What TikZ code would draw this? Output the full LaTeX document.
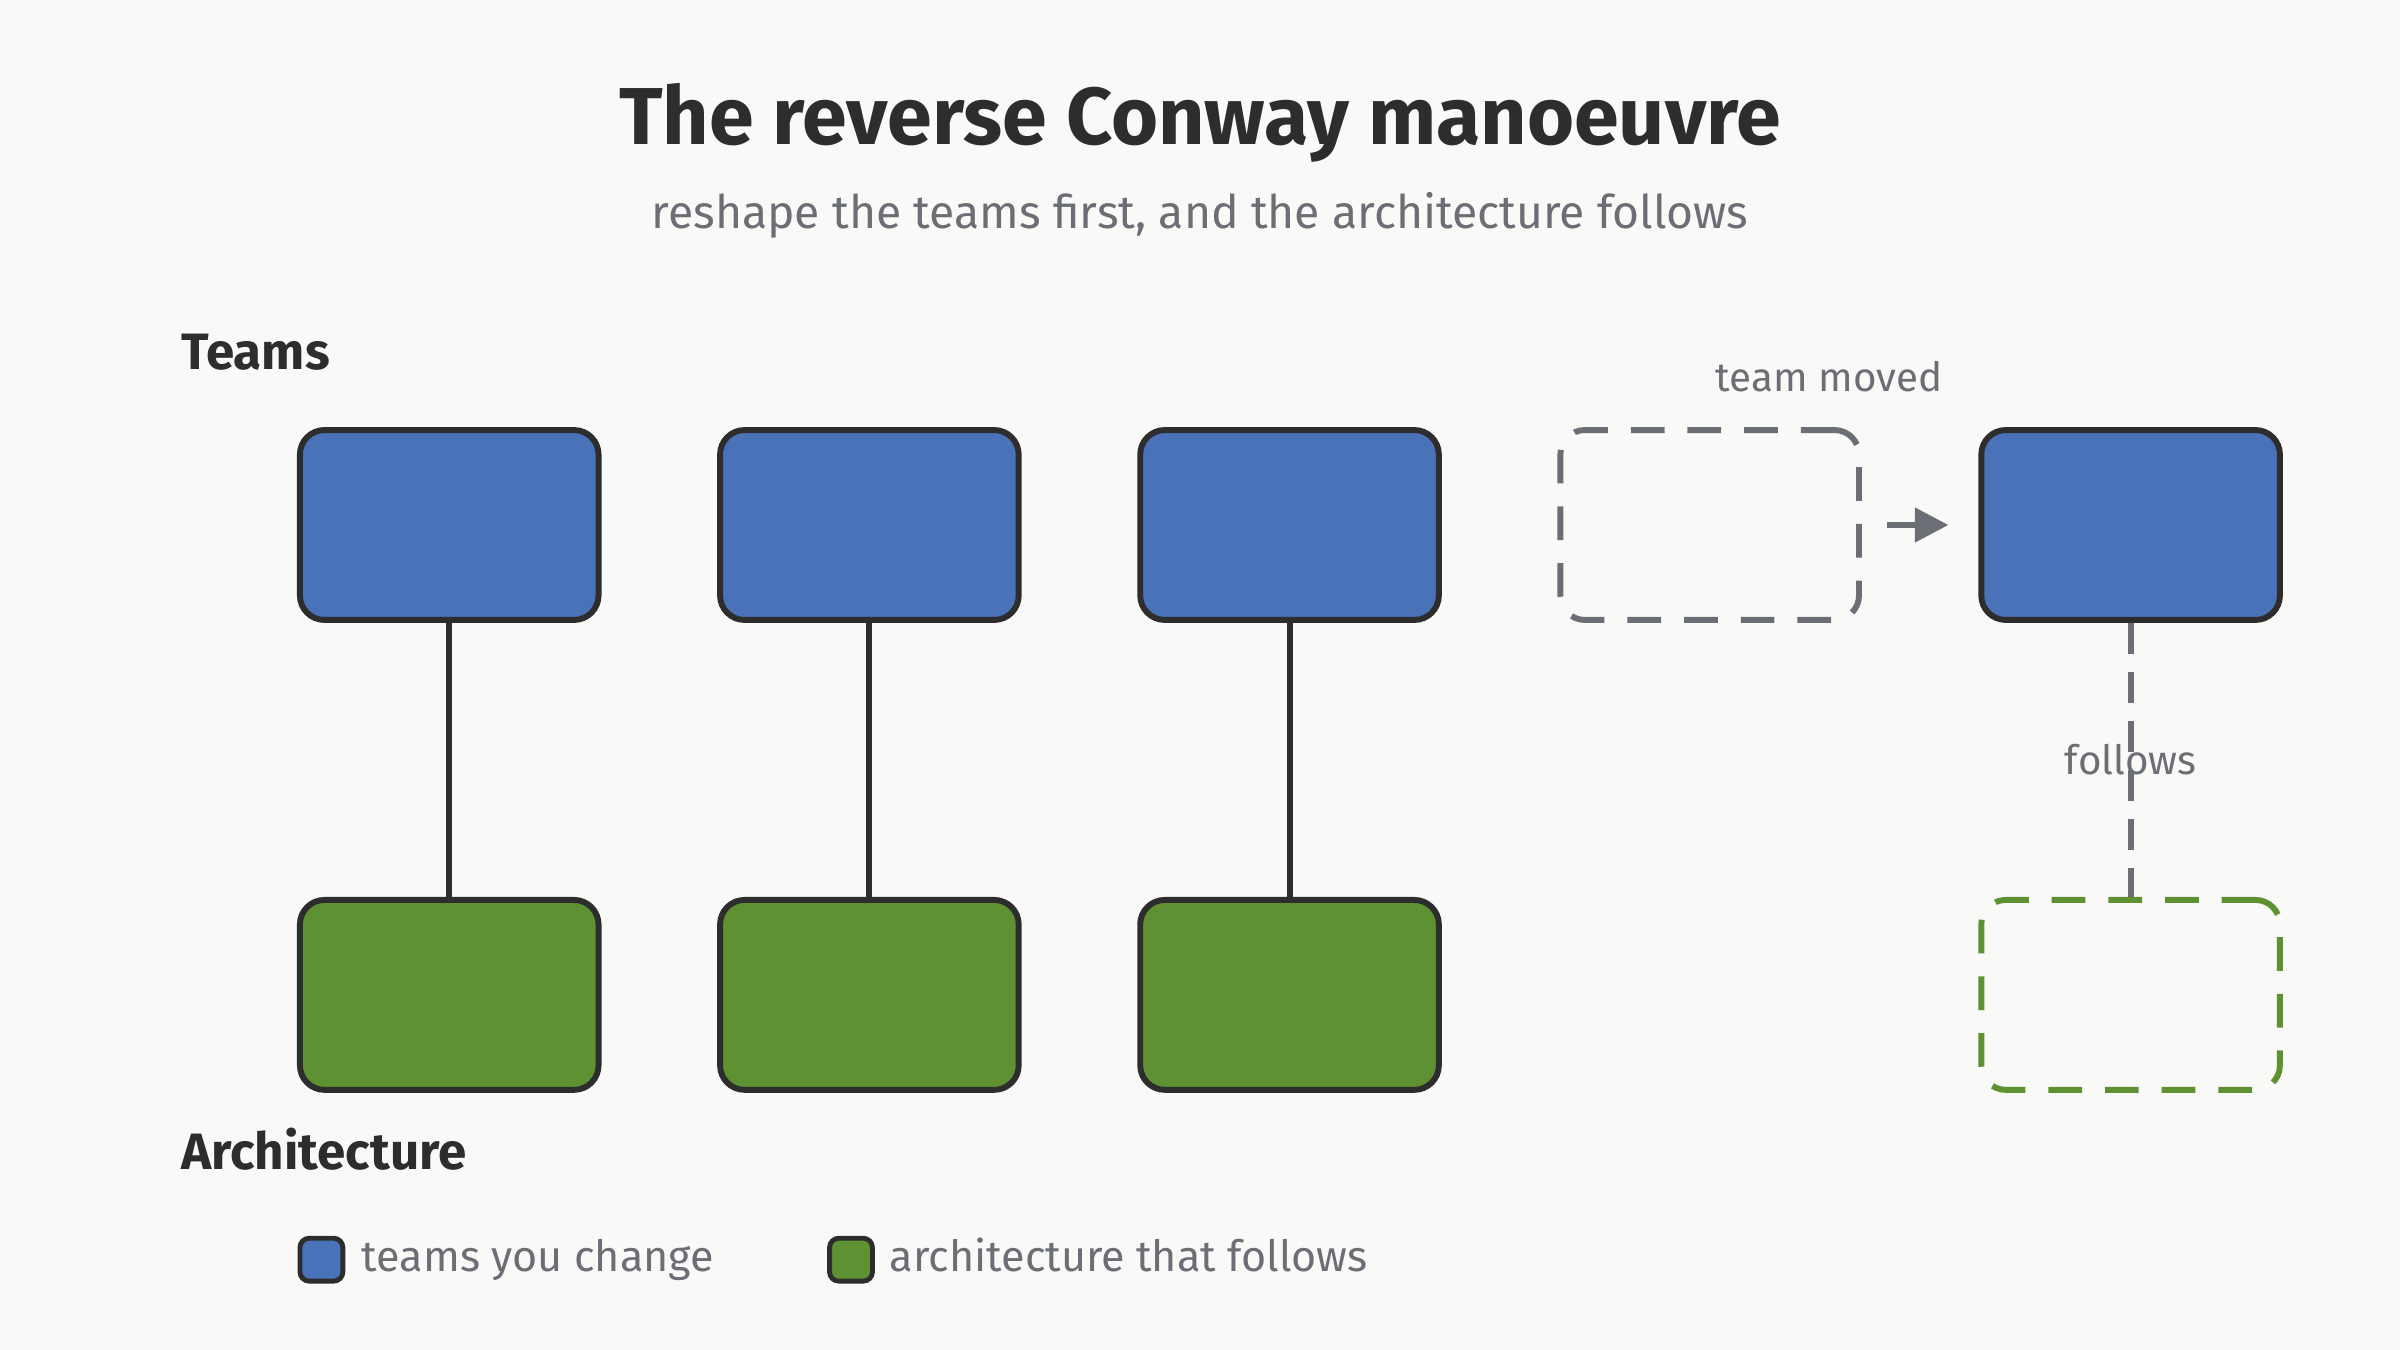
\documentclass[tikz,border=0pt]{standalone}
\usepackage{fontspec}
\setmainfont{Fira Sans}
\usetikzlibrary{arrows.meta}
\definecolor{teamblue}{HTML}{4A72B8}
\definecolor{archgreen}{HTML}{5E9132}
\definecolor{edge}{HTML}{2D2D2D}
\definecolor{soft}{HTML}{6B6E75}
\definecolor{paper}{HTML}{F9F9F7}
\tikzset{
  team/.style={draw=edge, fill=teamblue, line width=1.1pt, rounded corners=1.6mm, minimum width=1.95cm, minimum height=1.24cm},
  arch/.style={team, fill=archgreen},
  ghost/.style={draw=soft, dash pattern=on 2.2mm off 1.5mm, line width=1.1pt, rounded corners=1.6mm, minimum width=1.95cm, minimum height=1.24cm},
  link/.style={draw=edge, line width=1.1pt},
  key/.style={draw=edge, line width=0.9pt, rounded corners=0.6mm, minimum size=0.28cm, inner sep=0pt},
}
\begin{document}
\begin{tikzpicture}[x=0.01cm, y=-0.01cm]
      \fill[paper] (0,0) rectangle (1568,882);
      \useasboundingbox (0,0) rectangle (1568,882);

      \node (title) at (784,80) {\fontsize{15}{17}\selectfont\bfseries\color{edge}The reverse Conway manoeuvre};
      \node (sub) at (784,141) {\fontsize{8.6}{10}\selectfont\color{soft}reshape the teams first, and the architecture follows};
      \node[anchor=west] (teams) at (106,230) {\fontsize{9.5}{11}\selectfont\bfseries\color{edge}Teams};
      \node[anchor=west] (archlbl) at (106,751) {\fontsize{9.5}{11}\selectfont\bfseries\color{edge}Architecture};

      % three team / architecture pairs
      \foreach \i/\cx in {1/293.5, 2/568, 3/842.5} {
        \node[team] (t\i) at (\cx,343) {};
        \node[arch] (a\i) at (\cx,650) {};
        \draw[link] (t\i) -- (a\i);
      }

      % the moved team
      \node[ghost] (old) at (1117,343) {};
      \node[team] (new) at (1392,343) {};
      \node[ghost, draw=archgreen] (follow) at (1392,650) {};
      \node (moved) at (1195,246) {\fontsize{7.5}{9}\selectfont\color{soft}team moved};
      \coordinate (from) at (1233,343);
      \coordinate (to) at (1273,343);
      \draw[draw=soft, line width=1.1pt, -{Triangle[length=2.2mm, width=2.2mm]}] (from) -- (to);
      \draw[draw=soft, line width=1.1pt, dash pattern=on 2mm off 1.2mm] (new) -- node[pos=0.5, text=soft, font=\fontsize{7.5}{9}\selectfont] {follows} (follow);

      % legend
      \node[key, fill=teamblue] (k1) at (210,823) {};
      \node[anchor=base west] (l1) at (224,831) {\fontsize{8}{10}\selectfont\color{soft}teams you change};
      \node[key, fill=archgreen] (k2) at (556,823) {};
      \node[anchor=base west] (l2) at (569,831) {\fontsize{8}{10}\selectfont\color{soft}architecture that follows};
    \end{tikzpicture}
\end{document}
